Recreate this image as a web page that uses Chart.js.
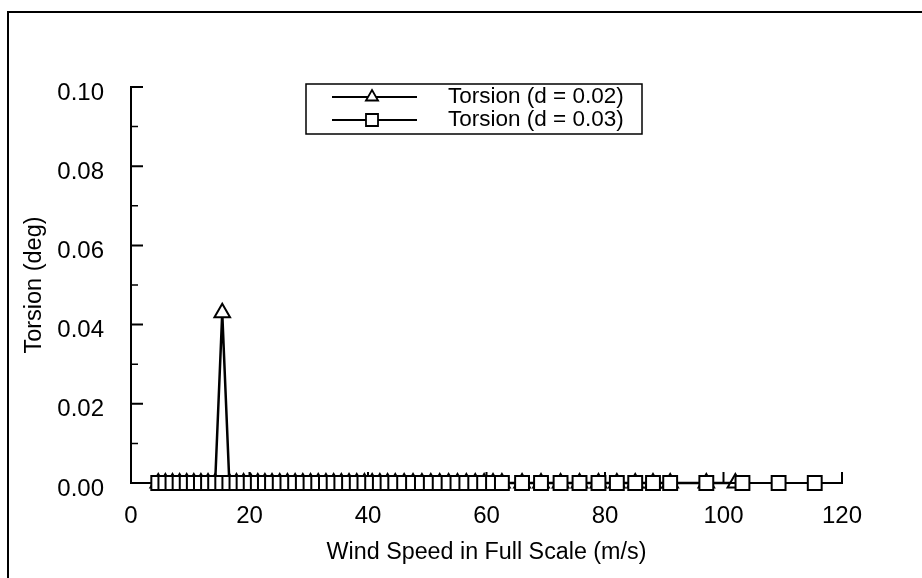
<!DOCTYPE html>
<html>
<head>
<meta charset="utf-8">
<script src="https://cdn.jsdelivr.net/npm/chart.js@4.4.1/dist/chart.umd.min.js"></script>
<style>
  html, body { margin: 0; padding: 0; background: #fff; }
  #wrap { position: relative; width: 922px; height: 578px; }
  #frame { position: absolute; left: 7px; top: 11px; right: 0; bottom: 0;
           border-top: 2px solid #000; border-left: 2px solid #000; pointer-events: none; }
</style>
</head>
<body>
<div id="wrap">
  <canvas id="torsionChart"></canvas>
  <div id="frame"></div>
</div>
<script>
// wind speed (m/s) and torsion (deg)
const speedsD02 = [4.6, 5.8, 7.0, 8.2, 9.4, 10.6, 11.8, 13.0, 14.2, 15.4, 16.6, 17.8, 19.0, 20.2, 21.4, 22.6, 23.8,
    25.1, 26.4, 27.7, 29.0, 30.3, 31.6, 32.9, 34.2, 35.5, 36.8, 38.1, 39.4, 40.7, 42.0, 43.3, 44.6,
    46.1, 47.6, 49.1, 50.6, 52.1, 53.6, 55.1, 56.6, 58.1, 59.6, 61.1, 62.6,
    66.0, 69.2, 72.5, 75.7, 78.9, 82.0, 85.1, 88.1, 91.0, 97.1, 102.0];
const torsionD02 = [0, 0, 0, 0, 0, 0, 0, 0, 0, 0.043, 0, 0, 0, 0, 0, 0, 0,
    0, 0, 0, 0, 0, 0, 0, 0, 0, 0, 0, 0, 0, 0, 0, 0,
    0, 0, 0, 0, 0, 0, 0, 0, 0, 0, 0, 0,
    0, 0, 0, 0, 0, 0, 0, 0, 0, 0, 0];

const speedsD03 = [4.6, 5.8, 7.0, 8.2, 9.4, 10.6, 11.8, 13.0, 14.2, 15.4, 16.6, 17.8, 19.0, 20.2, 21.4, 22.6, 23.8,
    25.1, 26.4, 27.7, 29.0, 30.3, 31.6, 32.9, 34.2, 35.5, 36.8, 38.1, 39.4, 40.7, 42.0, 43.3, 44.6,
    46.1, 47.6, 49.1, 50.6, 52.1, 53.6, 55.1, 56.6, 58.1, 59.6, 61.1, 62.6,
    66.0, 69.2, 72.5, 75.7, 78.9, 82.0, 85.1, 88.1, 91.0, 97.1, 103.2, 109.3, 115.4];
const torsionD03 = [0, 0, 0, 0, 0, 0, 0, 0, 0, 0, 0, 0, 0, 0, 0, 0, 0,
    0, 0, 0, 0, 0, 0, 0, 0, 0, 0, 0, 0, 0, 0, 0, 0,
    0, 0, 0, 0, 0, 0, 0, 0, 0, 0, 0, 0,
    0, 0, 0, 0, 0, 0, 0, 0, 0, 0, 0, 0, 0];

const seriesLabels = ['Torsion (d = 0.02)', 'Torsion (d = 0.03)'];
const xTickValues = [0, 20, 40, 60, 80, 100, 120];
const yTickValues = [0, 0.02, 0.04, 0.06, 0.08, 0.10];
const yMinorTickValues = [0.01, 0.03, 0.05, 0.07, 0.09];

const fontFamily = '"Liberation Sans", Arial, sans-serif';
Chart.defaults.font.family = fontFamily;
Chart.defaults.color = '#000';

const toPoints = (xs, ys) => xs.map((x, i) => ({ x: x, y: ys[i] }));

// tick marks point into the plot, drawn under the markers
const inwardTicks = {
    id: 'inwardTicks',
    beforeDatasetsDraw(chart) {
        const { ctx, chartArea, scales: { x, y } } = chart;
        ctx.save();
        ctx.strokeStyle = '#000';
        ctx.lineWidth = 2;
        ctx.beginPath();
        xTickValues.forEach(v => {
            const px = x.getPixelForValue(v);
            ctx.moveTo(px, chartArea.bottom);
            ctx.lineTo(px, chartArea.bottom - 11);
        });
        yTickValues.forEach(v => {
            const py = y.getPixelForValue(v);
            ctx.moveTo(chartArea.left, py);
            ctx.lineTo(chartArea.left + 12, py);
        });
        ctx.stroke();
        ctx.lineWidth = 1.5;
        ctx.beginPath();
        yMinorTickValues.forEach(v => {
            const py = y.getPixelForValue(v);
            ctx.moveTo(chartArea.left, py);
            ctx.lineTo(chartArea.left + 7, py);
        });
        ctx.stroke();
        ctx.restore();
    }
};

// boxed legend inside the plot, like the original figure
const boxedLegend = {
    id: 'boxedLegend',
    afterDraw(chart) {
        const { ctx } = chart;
        const box = { left: 306, top: 84, right: 642, bottom: 134 };
        ctx.save();
        ctx.strokeStyle = '#000';
        ctx.lineWidth = 1.5;
        ctx.strokeRect(box.left, box.top, box.right - box.left, box.bottom - box.top);
        chart.data.datasets.forEach((ds, i) => {
            const cy = 97 + i * 23;
            ctx.lineWidth = 2;
            ctx.beginPath();
            ctx.moveTo(332, cy);
            ctx.lineTo(417, cy);
            ctx.stroke();
            ctx.fillStyle = '#fff';
            ctx.lineWidth = 1.8;
            Chart.helpers.drawPoint(ctx, {
                pointStyle: ds.pointStyle,
                radius: ds.pointStyle === 'triangle' ? 7 : 8.5,
                rotation: 0,
                borderWidth: 1.8
            }, 372, cy);
            ctx.fillStyle = '#000';
            ctx.font = '22.5px ' + fontFamily;
            ctx.textAlign = 'left';
            ctx.textBaseline = 'middle';
            ctx.fillText(ds.label, 448, cy);
        });
        ctx.restore();
    }
};

new Chart(document.getElementById('torsionChart'), {
    type: 'line',
    data: {
        datasets: [{
            label: seriesLabels[0],
            data: toPoints(speedsD02, torsionD02),
            borderColor: '#000',
            borderWidth: 2.5,
            pointStyle: 'triangle',
            pointRadius: 9,
            pointBackgroundColor: '#fff',
            pointBorderColor: '#000',
            pointBorderWidth: 2,
            tension: 0,
            clip: false,
            order: 2
        }, {
            label: seriesLabels[1],
            data: toPoints(speedsD03, torsionD03),
            borderColor: '#000',
            borderWidth: 2,
            pointStyle: 'rect',
            pointRadius: 9.8,
            pointBackgroundColor: '#fff',
            pointBorderColor: '#000',
            pointBorderWidth: 2,
            tension: 0,
            clip: false,
            order: 1
        }]
    },
    options: {
        responsive: true,
        maintainAspectRatio: false,
        animation: false,
        layout: { padding: { top: 87, right: 80, left: 0, bottom: 0 } },
        plugins: {
            legend: { display: false },
            tooltip: { enabled: false }
        },
        scales: {
            x: {
                type: 'linear',
                min: 0,
                max: 120,
                afterBuildTicks: s => { s.ticks = xTickValues.map(v => ({ value: v })); },
                afterFit: s => { s.height = 95; },
                grid: { display: false, drawTicks: false },
                border: { display: true, color: '#000', width: 2 },
                ticks: { font: { size: 24 }, color: '#000', padding: 19, maxRotation: 0 },
                title: {
                    display: true,
                    text: 'Wind Speed in Full Scale (m/s)',
                    font: { size: 23.3 },
                    color: '#000',
                    padding: { top: 0, bottom: 11 }
                }
            },
            y: {
                type: 'linear',
                min: 0,
                max: 0.1,
                afterBuildTicks: s => { s.ticks = yTickValues.map(v => ({ value: v })); },
                afterFit: s => { s.width = 131; },
                grid: { display: false, drawTicks: false },
                border: { display: true, color: '#000', width: 2 },
                ticks: {
                    font: { size: 24 },
                    color: '#000',
                    padding: 27,
                    labelOffset: 6,
                    callback: v => v.toFixed(2)
                },
                title: {
                    display: true,
                    text: 'Torsion (deg)',
                    font: { size: 23.5 },
                    color: '#000',
                    padding: { top: 20, bottom: 0 }
                }
            }
        }
    },
    plugins: [inwardTicks, boxedLegend]
});
</script>
</body>
</html>
